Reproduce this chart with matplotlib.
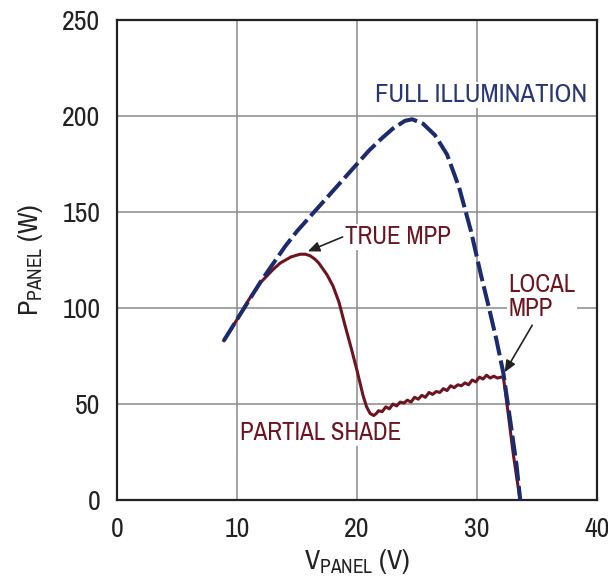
import matplotlib
matplotlib.use('Agg')
import matplotlib.pyplot as plt

plt.rcParams['font.family'] = ['Archivo Narrow', 'Liberation Sans', 'DejaVu Sans']
plt.rcParams['mathtext.fontset'] = 'custom'
plt.rcParams['mathtext.rm'] = 'Archivo Narrow'
plt.rcParams['mathtext.it'] = 'Archivo Narrow'

# Full illumination curve (V, W)
full_v = [8.9, 10, 11, 12, 13, 14, 15, 16, 17, 18, 19, 20, 21, 22, 23, 24, 24.6,
          25.5, 26.5, 27.5, 28.5, 29.5, 30.3, 31.0, 31.6, 32.2, 32.8, 33.3, 33.6]
full_p = [83, 94, 104, 114, 123, 132, 140, 147, 154, 161, 168, 175, 182, 188, 193.5, 197.5, 198.3,
          196, 190, 180, 163, 140, 118, 100, 84, 66, 40, 18, 0]

# Partial shade curve (V, W)
shade_v = [8.9, 10, 11, 12, 13, 13.6, 14.5, 15.25, 15.7, 16.1, 16.5, 16.8, 17.1, 17.5, 18, 18.5,
           19, 19.5, 20, 20.5, 20.8, 21.1, 21.4, 21.6, 21.8, 22.1, 22.4, 22.7, 23.0, 23.3,
           23.6, 23.9, 24.2, 24.5, 24.8, 25.1, 25.4, 25.7, 26.0, 26.3, 26.6, 26.9, 27.2,
           27.5, 27.8, 28.1, 28.4, 28.7, 29.0, 29.3, 29.6, 29.9, 30.2, 30.5, 30.8, 31.1,
           31.4, 31.7, 32.0, 32.2, 32.6, 33.0, 33.3, 33.6]
shade_p = [83, 94, 104.5, 113.5, 120, 123.4, 126.6, 128, 128, 127.2, 125.4, 123.5, 120.9, 117.3,
           111.5, 103, 91, 79.5, 67.5, 54.5, 48.5, 45, 44, 45, 46.5, 46, 48.5, 47.5, 50, 49,
           51, 50.5, 52, 51, 53.5, 52.5, 54.5, 53.5, 56, 55, 56.5, 56, 58,
           57, 59.5, 58.5, 60, 59.5, 61, 60, 62.5, 61.5, 64, 63, 65, 63.5,
           64.5, 63.5, 64, 64, 45, 25, 12, 0]

navy = '#1c2a6e'
maroon = '#6e1420'

fig = plt.figure(figsize=(6.08, 5.77), dpi=100)
ax = fig.add_axes([117 / 608, 77 / 577, 480 / 608, 480 / 577])

ax.plot(shade_v, shade_p, color=maroon, lw=2.2, zorder=3)
ax.plot(full_v, full_p, color=navy, lw=2.9, dashes=(5, 1.3), zorder=4)

ax.set_xlim(0, 40)
ax.set_ylim(0, 250)
ax.set_xticks([0, 10, 20, 30, 40])
ax.set_yticks([0, 50, 100, 150, 200, 250])
ax.grid(True, color='#8a8a8a', lw=1.1)
ax.set_axisbelow(True)
for s in ax.spines.values():
    s.set_linewidth(1.6)
    s.set_color('#222222')
ax.tick_params(length=0, pad=12, labelsize=20, labelcolor='#222222')

ax.set_xlabel(r'$\mathrm{V_{PANEL}}$ (V)', fontsize=20, color='#222222', labelpad=4)
ax.set_ylabel(r'$\mathrm{P_{PANEL}}$ (W)', fontsize=20, color='#222222', labelpad=12)

box = dict(facecolor='white', edgecolor='none', pad=1)
ax.text(21.5, 211, 'FULL ILLUMINATION', color='#2a3776', fontsize=19.2,
        ha='left', va='center', bbox=box, zorder=5)
ax.text(19.0, 137, 'TRUE MPP', color=maroon, fontsize=18,
        ha='left', va='center', bbox=box, zorder=5)
ax.text(32.6, 106, 'LOCAL\nMPP', color=maroon, fontsize=18, linespacing=1.1,
        ha='left', va='center', bbox=box, zorder=5)
ax.text(10.25, 35, 'PARTIAL SHADE', color=maroon, fontsize=18,
        ha='left', va='center', bbox=box, zorder=5)

arrow = dict(arrowstyle='-|>,head_length=0.7,head_width=0.3', color='#222222', lw=1.2,
             shrinkA=0, shrinkB=0)
ax.annotate('', xy=(15.9, 129.5), xytext=(18.8, 137), arrowprops=arrow, zorder=6)
ax.annotate('', xy=(32.3, 66.5), xytext=(34.6, 91), arrowprops=arrow, zorder=6)

fig.savefig('out.png', dpi=100)
